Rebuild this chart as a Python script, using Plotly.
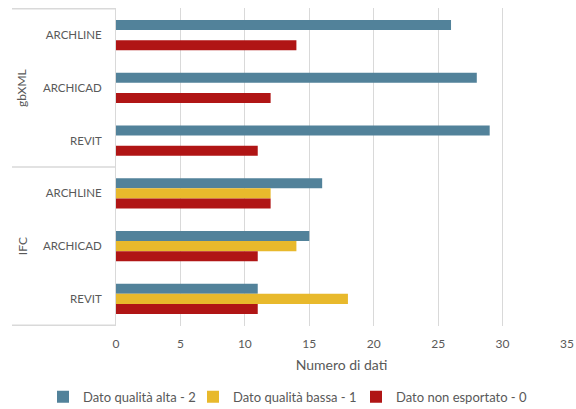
import plotly.graph_objects as go

groups = ["gbXML", "gbXML", "gbXML", "IFC", "IFC", "IFC"]
software = ["ARCHLINE", "ARCHICAD", "REVIT", "ARCHLINE", "ARCHICAD", "REVIT"]
alta = [26, 28, 29, 16, 15, 11]
bassa = [0, 0, 0, 12, 14, 18]
non_esportato = [14, 12, 11, 12, 11, 11]
series_names = ["Dato qualità alta - 2", "Dato qualità bassa - 1", "Dato non esportato - 0"]
colors = ["#52829A", "#E8B92C", "#B01515"]

cats = [g + "|" + s for g, s in zip(groups, software)]

legend_ids = ["legend", "legend2", "legend3"]
fig = go.Figure()
for name, vals, col, lg in zip(series_names, [alta, bassa, non_esportato], colors, legend_ids):
    fig.add_trace(go.Bar(
        y=cats, x=vals, name=name, orientation="h", legend=lg,
        marker=dict(color=col, line=dict(width=0)),
    ))

TXT = "#595959"
leg_x = [43, 193, 356]
legend_style = {}
for lg, lx in zip(legend_ids, leg_x):
    legend_style[lg] = dict(orientation="h", xref="container", x=lx / 576, xanchor="left",
                            yref="container", y=0.03, yanchor="middle",
                            font=dict(size=13, color=TXT), itemwidth=30,
                            bgcolor="rgba(0,0,0,0)")

fig.update_layout(
    width=576, height=409,
    margin=dict(l=116, r=9, t=8, b=83, autoexpand=False),
    paper_bgcolor="white", plot_bgcolor="white",
    barmode="group", bargap=0.43, bargroupgap=0,
    font=dict(family="Lato, DejaVu Sans, sans-serif", size=11, color=TXT),
    xaxis=dict(range=[0, 35], dtick=5, showgrid=True, gridcolor="#D9D9D9", gridwidth=1,
               zeroline=False, showline=False, ticks="", ticklabelstandoff=9,
               tickfont=dict(size=12, color=TXT),
               title=dict(text="Numero di dati", font=dict(size=14, color=TXT), standoff=10)),
    yaxis=dict(type="category", categoryorder="array", categoryarray=cats,
               autorange="reversed", tickvals=cats, ticktext=software,
               tickfont=dict(size=11.5, color=TXT), ticks="", ticklabelstandoff=11,
               showline=True, linecolor="#D9D9D9", linewidth=1, showgrid=False),
    showlegend=True,
    **legend_style,
)

# group separators and labels
unique_groups = []
for g in groups:
    if g not in unique_groups:
        unique_groups.append(g)
left = -104 / 451
bounds = [-0.5]
for g in unique_groups:
    idx = [i for i, gg in enumerate(groups) if gg == g]
    bounds.append(idx[-1] + 0.5)
    fig.add_annotation(x=-94 / 451, xref="paper", y=(idx[0] + idx[-1]) / 2, yref="y",
                       text=g, textangle=-90, showarrow=False,
                       font=dict(size=12, color=TXT), xanchor="center", yanchor="middle")
for b in bounds:
    fig.add_shape(type="line", xref="paper", yref="y", x0=left, x1=0, y0=b, y1=b,
                  line=dict(color="#D9D9D9", width=1.5))

fig.write_html("out.html")
